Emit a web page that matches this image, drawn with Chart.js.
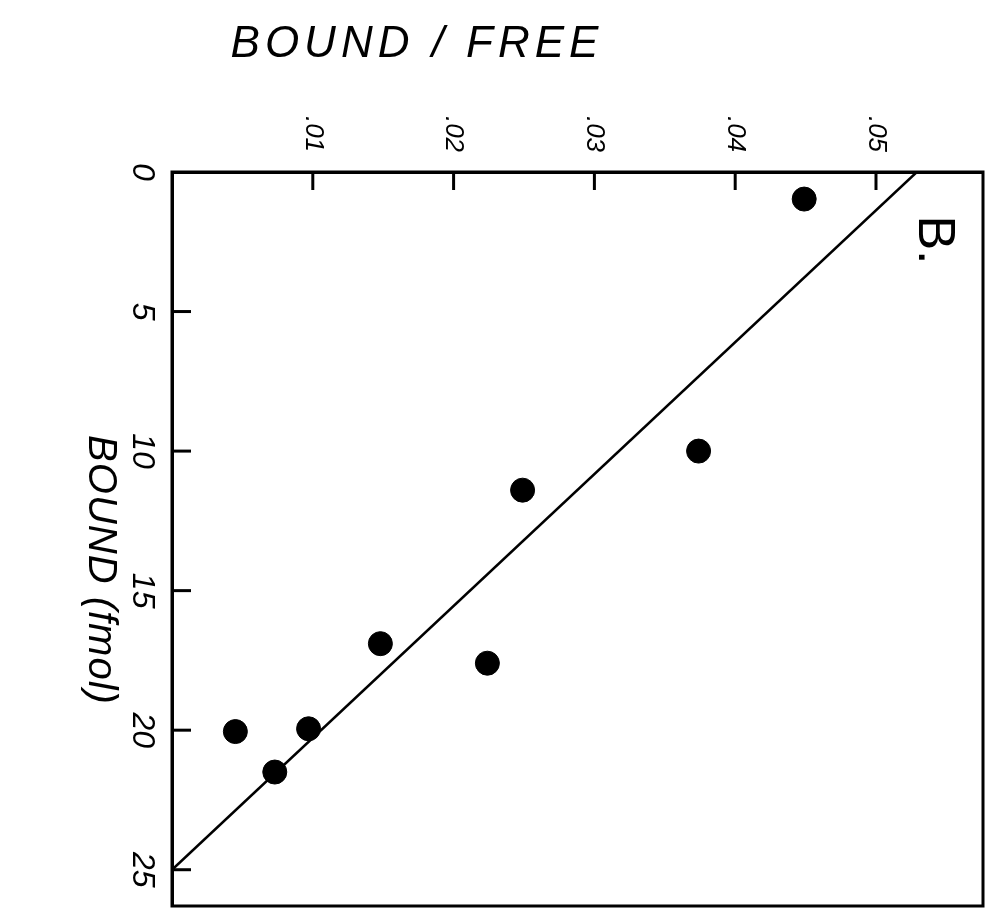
<!DOCTYPE html>
<html>
<head>
<meta charset="utf-8">
<script src="https://cdn.jsdelivr.net/npm/chart.js@4.4.1/dist/chart.umd.min.js"></script>
<style>
  body { margin: 0; background: #fff; }
  canvas { display: block; }
</style>
</head>
<body>
<canvas id="scatchard" width="1001" height="919"></canvas>
<script>
// bound/free ratio vs bound (fmol)
const ratioVals = [0.0449, 0.0374, 0.0249, 0.0148, 0.0224, 0.0097, 0.0045, 0.0073];
const boundVals = [0.97, 10.0, 11.4, 16.9, 17.6, 19.95, 20.05, 21.5];

// fitted line end points
const fitRatio = [0, 0.0529];
const fitBound = [25, 0];

const xTickVals = [0.01, 0.02, 0.03, 0.04, 0.05];
const xTickLabels = ['.01', '.02', '.03', '.04', '.05'];
const yTickVals = [0, 5, 10, 15, 20, 25];
const yTickLabels = ['0', '5', '10', '15', '20', '25'];

const ink = '#000';
const handFont = '"Liberation Sans", sans-serif';

function near(v, list) {
  return list.findIndex(t => Math.abs(t - v) < 1e-6);
}

// frame, inward tick marks and rotated lettering
const paperPlugin = {
  id: 'paper',
  afterDraw(chart) {
    const ctx = chart.ctx;
    const a = chart.chartArea;
    const xs = chart.scales.x;
    const ys = chart.scales.y;
    ctx.save();
    ctx.strokeStyle = ink;
    ctx.fillStyle = ink;
    ctx.lineWidth = 3;
    ctx.beginPath();
    ctx.moveTo(a.left, a.top);
    ctx.lineTo(a.right, a.top);
    ctx.lineTo(a.right, a.bottom);
    ctx.lineTo(a.left, a.bottom);
    ctx.closePath();
    ctx.stroke();

    // ticks on top axis
    xs.ticks.forEach(t => {
      const i = near(t.value, xTickVals);
      if (i < 0) return;
      const px = xs.getPixelForValue(t.value);
      ctx.beginPath();
      ctx.moveTo(px, a.top);
      ctx.lineTo(px, a.top + 18);
      ctx.stroke();
      ctx.save();
      ctx.translate(px, a.top - 38);
      ctx.rotate(Math.PI / 2);
      ctx.font = 'italic 26px ' + handFont;
      ctx.textAlign = 'center';
      ctx.textBaseline = 'middle';
      ctx.fillText(xTickLabels[i], 0, 0);
      ctx.restore();
    });

    // ticks on left axis
    ys.ticks.forEach(t => {
      const i = near(t.value, yTickVals);
      if (i < 0) return;
      const py = ys.getPixelForValue(t.value);
      if (t.value > 0) {
        ctx.beginPath();
        ctx.moveTo(a.left, py);
        ctx.lineTo(a.left + 19, py);
        ctx.stroke();
      }
      ctx.save();
      ctx.translate(a.left - 30, py);
      ctx.rotate(Math.PI / 2);
      ctx.font = 'italic 32px ' + handFont;
      ctx.textAlign = 'center';
      ctx.textBaseline = 'middle';
      ctx.fillText(yTickLabels[i], 0, 0);
      ctx.restore();
    });

    // axis titles
    ctx.textAlign = 'center';
    ctx.textBaseline = 'middle';
    ctx.font = 'italic 44px ' + handFont;
    ctx.letterSpacing = '5px';
    ctx.fillText('BOUND / FREE', 417, 45);

    ctx.save();
    ctx.translate(100, 570);
    ctx.rotate(Math.PI / 2);
    ctx.font = 'italic 40px ' + handFont;
    ctx.letterSpacing = '1px';
    ctx.fillText('BOUND (fmol)', 0, 0);
    ctx.restore();

    // panel letter
    ctx.save();
    ctx.translate(933, 240);
    ctx.rotate(Math.PI / 2);
    ctx.font = '52px ' + handFont;
    ctx.letterSpacing = '0px';
    ctx.fillText('B.', 0, 0);
    ctx.restore();
    ctx.restore();
  }
};

new Chart(document.getElementById('scatchard'), {
  type: 'scatter',
  data: {
    datasets: [
      {
        type: 'line',
        data: fitRatio.map((r, i) => ({ x: r, y: fitBound[i] })),
        borderColor: ink,
        borderWidth: 2.5,
        pointRadius: 0,
        fill: false
      },
      {
        data: ratioVals.map((r, i) => ({ x: r, y: boundVals[i] })),
        backgroundColor: ink,
        borderColor: ink,
        pointRadius: 12
      }
    ]
  },
  options: {
    responsive: false,
    animation: false,
    layout: { padding: { right: 18, bottom: 12 } },
    plugins: {
      legend: { display: false },
      tooltip: { enabled: false }
    },
    scales: {
      x: {
        type: 'linear',
        position: 'top',
        min: 0,
        max: 0.0576,
        ticks: { display: false, stepSize: 0.01 },
        grid: { display: false },
        border: { color: ink, width: 3 },
        afterFit: s => { s.height = 172; }
      },
      y: {
        type: 'linear',
        reverse: true,
        min: 0,
        max: 26.3,
        ticks: { display: false, stepSize: 5 },
        grid: { display: false },
        border: { color: ink, width: 3 },
        afterFit: s => { s.width = 172; }
      }
    }
  },
  plugins: [paperPlugin]
});
</script>
</body>
</html>
